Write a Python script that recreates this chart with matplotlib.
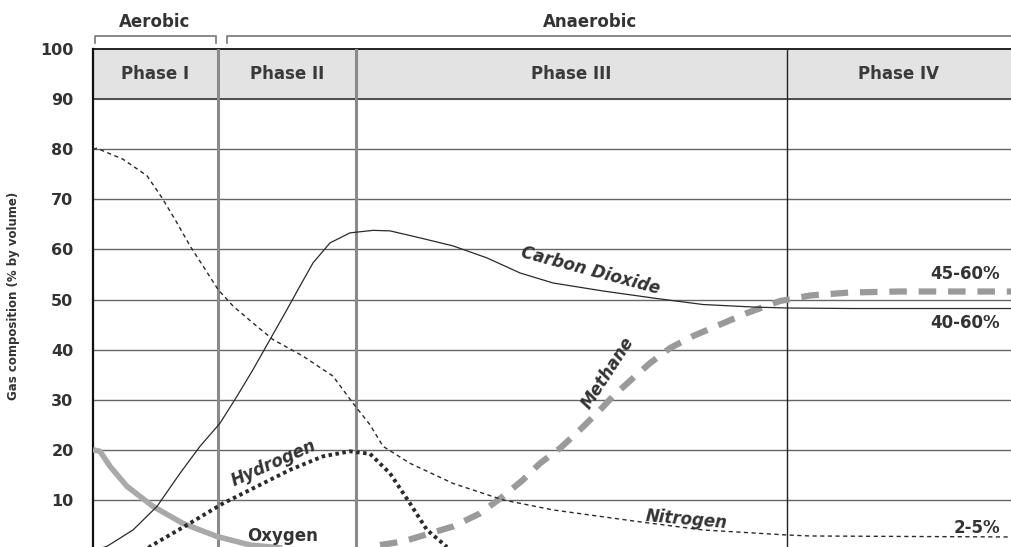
import matplotlib
matplotlib.use("Agg")
import matplotlib.pyplot as plt

plt.rcParams['font.family'] = ['DejaVu Sans']

# time axis is unitless (landfill age); phases split at these points
phase_edges = [0, 125, 263, 694, 918]
phase_names = ["Phase I", "Phase II", "Phase III", "Phase IV"]
y_ticks = [10, 20, 30, 40, 50, 60, 70, 80, 90, 100]

co2_x = [0, 13.7, 40, 64, 87, 107, 127, 144, 160, 177, 194, 207, 220, 237, 257, 280, 297,
         327, 360, 394, 427, 460, 510, 560, 610, 660, 694, 760, 918]
co2_y = [0, 0.7, 4, 8.7, 15.3, 20.7, 25.3, 30.7, 36, 42, 48, 52.7, 57.3, 61.3, 63.3, 63.8, 63.7,
         62.3, 60.7, 58.3, 55.3, 53.3, 51.7, 50.3, 49, 48.5, 48.3, 48.2, 48.2]

n2_x = [0, 3.7, 30, 54, 69, 84, 97, 110, 125, 140, 160, 180, 210, 240, 260, 277, 290, 317,
        360, 410, 460, 544, 610, 694, 717, 918]
n2_y = [80, 80.2, 78, 74.7, 70.3, 65.3, 60.7, 56.7, 52, 48.7, 45.3, 42, 38.7, 34.7, 29.3, 25,
        20.7, 17.3, 13.3, 10, 8, 5.7, 4, 3, 2.8, 2.6]

h2_x = [54, 57, 94, 130, 164, 197, 230, 257, 277, 297, 317, 334, 354]
h2_y = [0, 0.7, 5, 9.3, 12.7, 16, 18.7, 19.7, 19.2, 15.3, 9.3, 4, 0.6]

o2_x = [0, 7, 17, 34, 60, 90, 124, 157, 184, 210, 263]
o2_y = [20, 19.7, 16.7, 12.7, 8.7, 5.3, 2.7, 1, 0.5, 0, 0]

ch4_x = [287, 310, 360, 387, 410, 430, 447, 467, 487, 504, 520, 540, 557, 577, 600, 627, 654,
         687, 717, 757, 807, 918]
ch4_y = [1, 1.7, 4.7, 7.3, 10.7, 14, 17.3, 20.3, 24, 27.3, 30.7, 34.3, 37.3, 40.3, 42.7, 45,
         47.3, 49.7, 50.8, 51.4, 51.6, 51.6]

fig = plt.figure(figsize=(10.11, 5.47), dpi=100)
ax = fig.add_axes([93 / 1011, 0, 918 / 1011, 498 / 547])
ax.set_xlim(phase_edges[0], phase_edges[-1])
ax.set_ylim(0.6, 100)

# header band
ax.axhspan(90, 100, color="#e3e3e3", zorder=0)
for yv in y_ticks[:-2]:
    ax.axhline(yv, color="#666666", lw=1.0, zorder=1)
ax.axhline(90, color="#222222", lw=1.1, zorder=2)
ax.axhline(100, color="#222222", lw=1.4, zorder=2, clip_on=False)

ax.axvline(phase_edges[1], color="#8a8a8a", lw=2.2, zorder=2)
ax.axvline(phase_edges[2], color="#8a8a8a", lw=2.2, zorder=2)
ax.axvline(phase_edges[3], color="#222222", lw=1.0, zorder=2)

for i, name in enumerate(phase_names):
    xc = (phase_edges[i] + phase_edges[i + 1]) / 2
    ax.text(xc, 95, name, ha="center", va="center", fontsize=12,
            fontweight="bold", color="#3a3a3a")

# gas curves
ax.plot(o2_x, o2_y, color="#a9a9a9", lw=4, solid_capstyle="butt",
        solid_joinstyle="round", zorder=3)
ax.plot(ch4_x, ch4_y, color="#9a9a9a", lw=4.5, linestyle=(0, (2.8, 1.9)), zorder=3)
ax.plot(n2_x, n2_y, color="#2a2a2a", lw=1.0, linestyle=(0, (3, 2.5)), zorder=4)
ax.plot(h2_x, h2_y, color="#2a2a2a", lw=2.8, linestyle=(0, (0.9, 0.9)), zorder=4)
ax.plot(co2_x, co2_y, color="#2a2a2a", lw=0.9, solid_joinstyle="round", zorder=4)

lab = dict(fontweight="bold", color="#333333", fontsize=12)
ax.text(497, 55.8, "Carbon Dioxide", rotation=-15, ha="center", va="center",
        style="italic", **lab)
ax.text(515, 35.4, "Methane", rotation=57, ha="center", va="center", style="italic", **lab)
ax.text(181, 17.4, "Hydrogen", rotation=24, ha="center", va="center", style="italic", **lab)
ax.text(190, 2.8, "Oxygen", ha="center", va="center", **lab)
ax.text(593, 6, "Nitrogen", rotation=-5, ha="center", va="center", style="italic", **lab)
ax.text(907, 55, "45-60%", ha="right", va="center", **lab)
ax.text(907, 45.4, "40-60%", ha="right", va="center", **lab)
ax.text(907, 4.4, "2-5%", ha="right", va="center", **lab)

# aerobic / anaerobic brackets
br = dict(color="#777777", lw=1.2, clip_on=False)
ax.plot([2, 2, 123, 123], [101.2, 102.6, 102.6, 101.2], **br)
ax.plot([134, 134, 918], [101.2, 102.6, 102.6], **br)
ax.text(62, 105.3, "Aerobic", ha="center", va="center", **lab)
ax.text(497, 105.3, "Anaerobic", ha="center", va="center", **lab)

ax.set_yticks(y_ticks)
ax.set_yticklabels([str(v) for v in y_ticks], fontsize=11.5, fontweight="bold",
                   color="#333333")
ax.tick_params(axis="y", length=0, pad=14)
ax.set_xticks([])
for side in ["top", "right", "bottom"]:
    ax.spines[side].set_visible(False)
ax.spines["left"].set_linewidth(1.6)
ax.spines["left"].set_color("#111111")

fig.text(14 / 1011, 0.46, "Gas composition (% by volume)", rotation=90, ha="center",
         va="center", fontsize=8.5, fontweight="bold", color="#333333")

fig.savefig("out.png", dpi=100)
